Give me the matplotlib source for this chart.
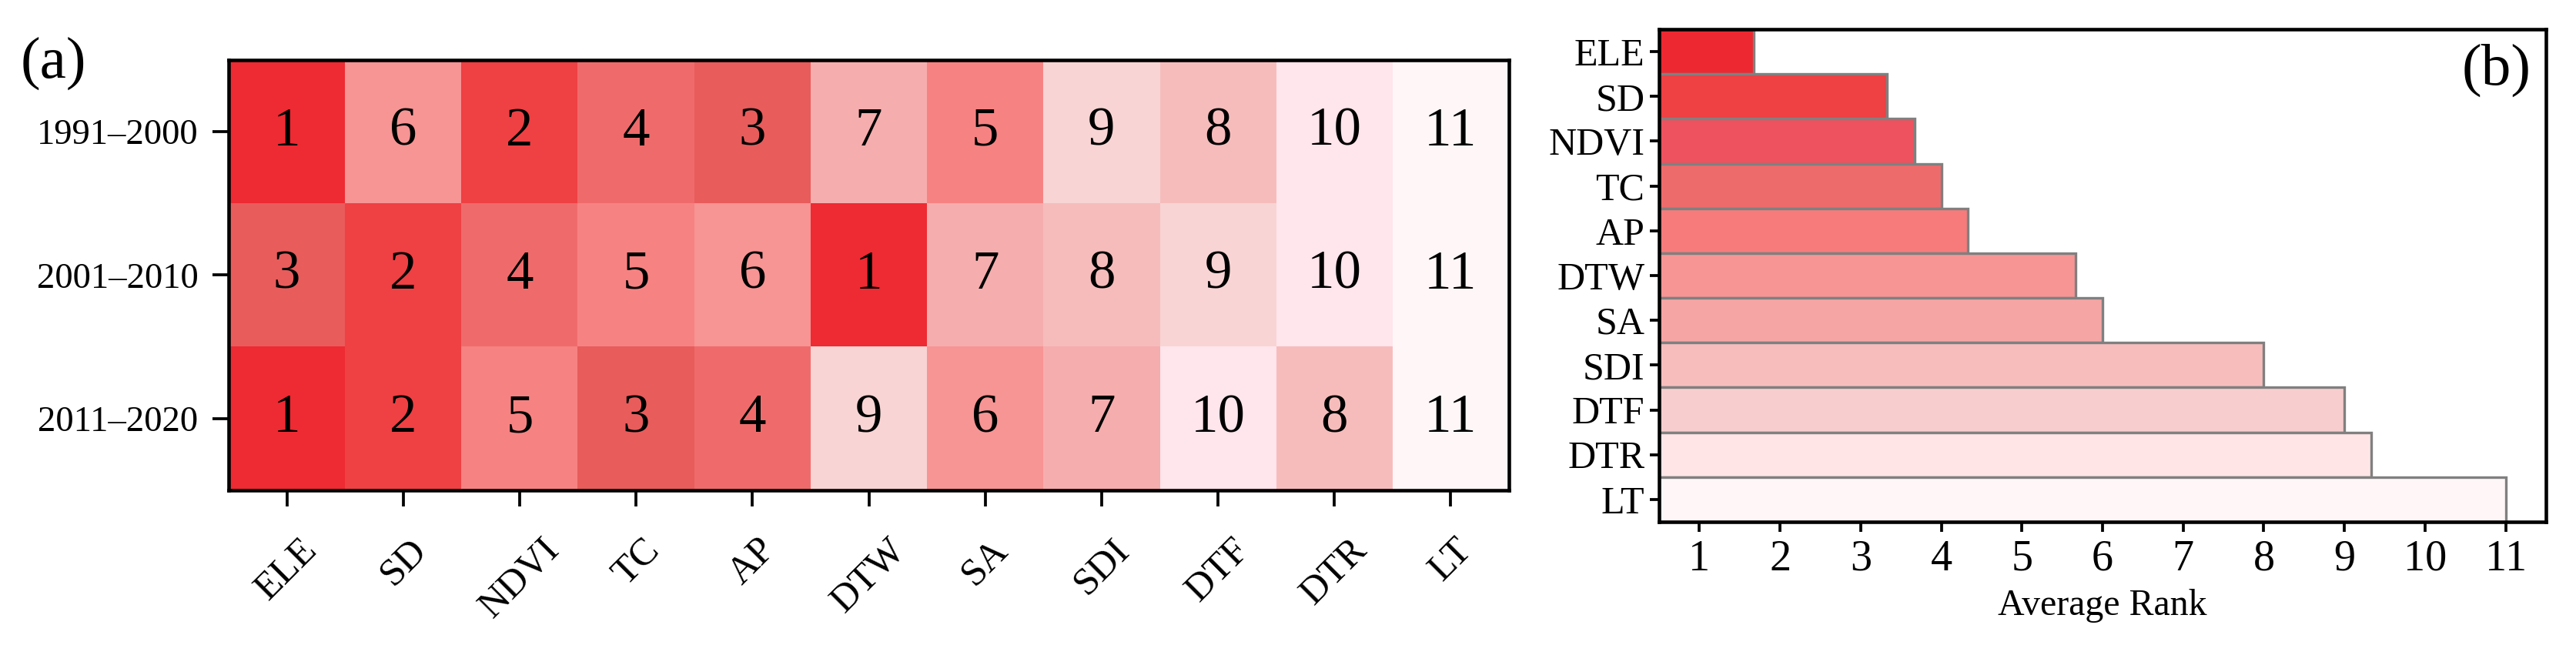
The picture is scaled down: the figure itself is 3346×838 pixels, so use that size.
import numpy as np
import matplotlib
matplotlib.use('Agg')
import matplotlib.pyplot as plt
from matplotlib.colors import ListedColormap

## {{{                          --     data     --
factors = ['ELE', 'SD', 'NDVI', 'TC', 'AP', 'DTW', 'SA', 'SDI', 'DTF', 'DTR', 'LT']
periods = ['1991–2000', '2001–2010', '2011–2020']

rank_1991_2000 = [1, 6, 2, 4, 3, 7, 5, 9, 8, 10, 11]
rank_2001_2010 = [3, 2, 4, 5, 6, 1, 7, 8, 9, 10, 11]
rank_2011_2020 = [1, 2, 5, 3, 4, 9, 6, 7, 10, 8, 11]

avg_rank = [1.67, 3.33, 3.67, 4.00, 4.33, 5.67, 6.00, 8.00, 9.00, 9.33, 11.00]

# colour for rank 1..11
rank_colors = ['#EE2A32', '#EF4043', '#E85C5C', '#EF6B6B', '#F78282', '#F79494',
               '#F6ADAD', '#F6BCBC', '#F8D4D4', '#FFE5EC', '#FFF7F7']
bar_colors = ['#EE2830', '#EF4043', '#EE525E', '#EE6B6B', '#F77B7B', '#F79595',
              '#F6A5A5', '#F7BDBD', '#F8CDCD', '#FFE5E6', '#FFF7F7']
##────────────────────────────────────────────────────────────────────────────}}}

plt.rcParams['font.family'] = ['Liberation Serif', 'DejaVu Serif']
plt.rcParams['axes.linewidth'] = 1.1

W, H = 3346, 838
fig = plt.figure(figsize=(W / 300, H / 300), dpi=300)

## {{{                          --     (a) heatmap     --
ax1 = fig.add_axes([297 / W, 1 - 637 / H, (1960 - 297) / W, (637 - 78) / H])
ranks = np.array([rank_1991_2000, rank_2001_2010, rank_2011_2020])
cmap = ListedColormap(rank_colors)
ax1.imshow(ranks, cmap=cmap, vmin=0.5, vmax=11.5, aspect='auto', interpolation='nearest')
for i in range(ranks.shape[0]):
    for j in range(ranks.shape[1]):
        ax1.text(j, i, str(ranks[i, j]), ha='center', va='center', fontsize=17, color='black')

ax1.set_xticks(range(len(factors)))
ax1.set_xticklabels(factors, rotation=45, ha='center', fontsize=12)
ax1.set_yticks(range(len(periods)))
ax1.set_yticklabels(periods, fontsize=11.2)
ax1.tick_params(axis='both', length=5, width=0.9)
ax1.tick_params(axis='x', pad=8)
ax1.tick_params(axis='y', pad=4.5)
fig.text(69 / W, 1 - 82 / H, '(a)', fontsize=18.5, ha='center', va='center')
##────────────────────────────────────────────────────────────────────────────}}}

## {{{                          --     (b) average rank     --
ax2 = fig.add_axes([2155 / W, 1 - 678 / H, (3307 - 2155) / W, (678 - 38) / H])
ypos = np.arange(len(factors))
ax2.barh(ypos, avg_rank, height=1.0, left=0, color=bar_colors,
         edgecolor='#808080', linewidth=0.8)
ax2.set_xlim(0.5, 11.5)
ax2.set_ylim(len(factors) - 0.5, -0.5)
ax2.set_xticks(range(1, 12))
ax2.set_xticklabels([str(v) for v in range(1, 12)], fontsize=13.5)
ax2.set_yticks(ypos)
ax2.set_yticklabels(factors, fontsize=12)
ax2.tick_params(axis='both', length=3, width=0.9)
ax2.tick_params(axis='x', pad=2.5)
ax2.tick_params(axis='y', pad=1.5)
ax2.set_xlabel('Average Rank', fontsize=11.5, labelpad=3)
ax2.text(0.944, 0.916, '(b)', transform=ax2.transAxes, fontsize=18.5, ha='center', va='center')
##────────────────────────────────────────────────────────────────────────────}}}

fig.savefig('out.png', dpi=300)
